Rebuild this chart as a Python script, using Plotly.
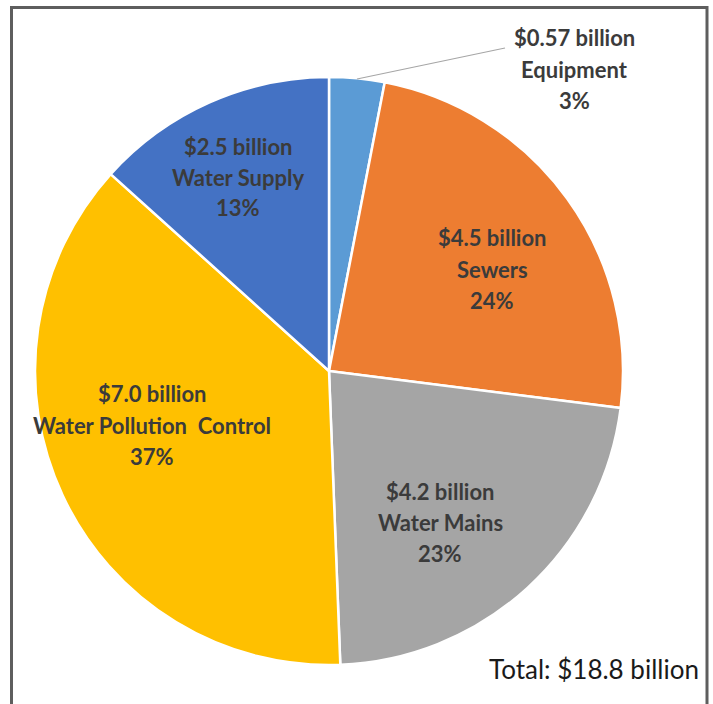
import plotly.graph_objects as go

# Spending categories, clockwise from 12 o'clock
categories = ["Equipment", "Sewers", "Water Mains", "Water Pollution  Control", "Water Supply"]
spending_billion = [0.57, 4.5, 4.2, 7.0, 2.5]
share_labels = ["3%", "24%", "23%", "37%", "13%"]
total_label = "Total: $18.8 billion"

colors = ["#5B9BD5", "#ED7D31", "#A5A5A5", "#FFC000", "#4472C4"]

W, H = 713, 704


def px(x, y):
    """Pixel position -> paper coordinates (margins are zero)."""
    return x / W, (H - y) / H


fig = go.Figure(
    go.Pie(
        labels=categories,
        values=spending_billion,
        sort=False,
        direction="clockwise",
        rotation=0,
        textinfo="none",
        hoverinfo="label+value+percent",
        marker=dict(colors=colors, line=dict(color="white", width=2.5)),
        domain=dict(x=[33 / W, 625 / W], y=[39 / H, 627 / H]),
        showlegend=False,
    )
)

# Label anchor points (pixel centres of the middle line) for each slice
label_centres = [(574, 69), (492, 269), (440, 522), (152, 425), (238, 177)]
line_gap = 31

annotations = []
for cat, val, share, (cx, cy) in zip(categories, spending_billion, share_labels, label_centres):
    amount = f"${val:.2f} billion" if val < 1 else f"${val:.1f} billion"
    for k, line in enumerate([amount, cat, share]):
        x, y = px(cx, cy + (k - 1) * line_gap)
        annotations.append(
            dict(
                x=x, y=y, xref="paper", yref="paper",
                text=f"<b>{line}</b>", showarrow=False,
                xanchor="center", yanchor="middle",
                font=dict(family="Lato", size=22, color="#3b3b3b"),
            )
        )

tx, ty = px(701, 669)
annotations.append(
    dict(
        x=tx, y=ty, xref="paper", yref="paper", text=total_label,
        showarrow=False, xanchor="right", yanchor="middle",
        font=dict(family="Lato", size=26, color="#1a1a1a"),
    )
)

# Leader line from the small Equipment slice to its label
lx0, ly0 = px(357, 79)
lx1, ly1 = px(505, 48)
# Outer frame
fx0, fy1 = px(11.5, 7.5)
fx1, fy0 = px(707, 710)

fig.update_layout(
    width=W, height=H,
    margin=dict(l=0, r=0, t=0, b=0),
    paper_bgcolor="white", plot_bgcolor="white",
    annotations=annotations,
    shapes=[
        dict(type="line", xref="paper", yref="paper", x0=lx0, y0=ly0, x1=lx1, y1=ly1,
             line=dict(color="#a6a6a6", width=1.2)),
        dict(type="rect", xref="paper", yref="paper", x0=fx0, y0=fy0, x1=fx1, y1=fy1,
             line=dict(color="#5e5e5e", width=3)),
    ],
)

fig.write_html("out.html")
